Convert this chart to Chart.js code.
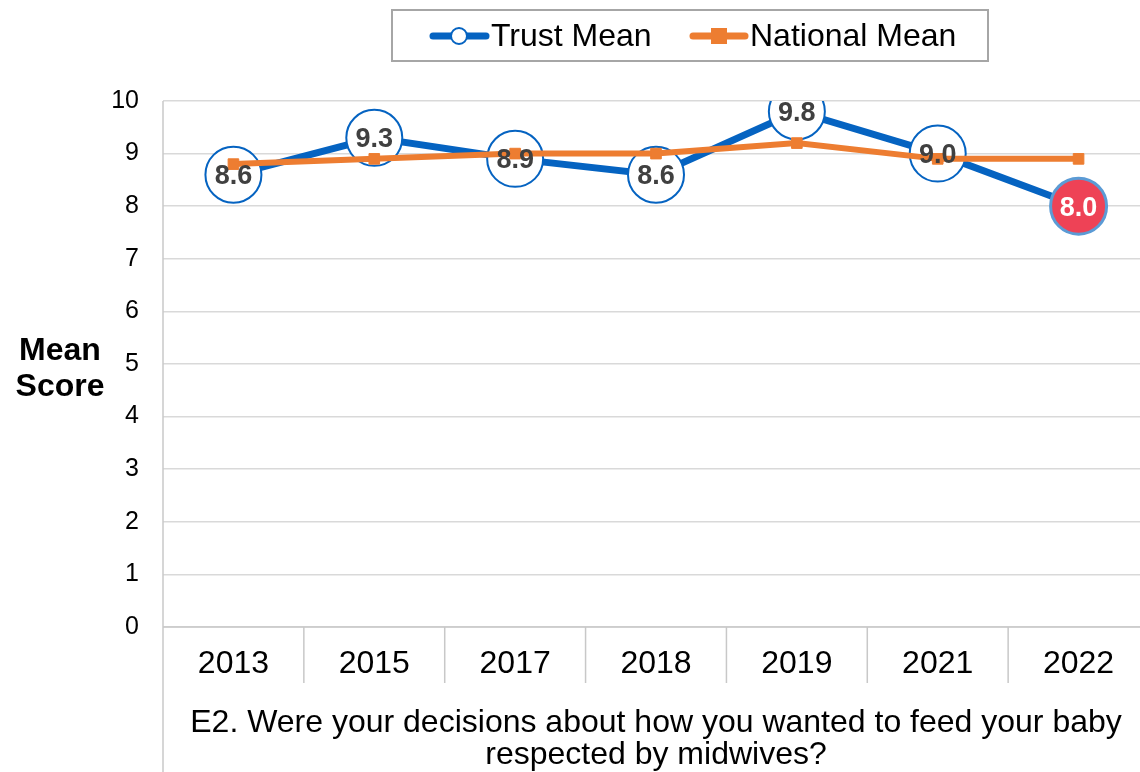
<!DOCTYPE html>
<html><head><meta charset="utf-8">
<script src="https://cdn.jsdelivr.net/npm/chart.js@4/dist/chart.umd.min.js"></script>
<style>
html,body{margin:0;padding:0;overflow:hidden;background:#fff}
#wrap{width:1140px;height:772px;overflow:hidden;position:relative}
#wrap canvas{position:absolute;left:0;top:0}
</style>
</head><body><div id="wrap"><canvas id="c" width="1180" height="772" style="width:1180px;height:772px"></canvas></div>
<script>
const categories = ['2013','2015','2017','2018','2019','2021','2022'];
const trustMean = [8.6, 9.3, 8.9, 8.6, 9.8, 9.0, 8.0];
const nationalMean = [8.8, 8.9, 9.0, 9.0, 9.2, 8.9, 8.9];
const yTicks = [0,1,2,3,4,5,6,7,8,9,10];
const seriesNames = ['Trust Mean', 'National Mean'];
const yTitle = ['Mean', 'Score'];
const xTitle = ['E2. Were your decisions about how you wanted to feed your baby', 'respected by midwives?'];

const FONT = "'Liberation Sans', Arial, sans-serif";
const BLUE = '#0563C1';
const ORANGE = '#ED7D31';
const RED = '#EE4256';
const lastIdx = trustMean.length - 1;

const decor = {
  id: 'decor',
  beforeDatasetsDraw(chart) {
    const ctx = chart.ctx, ca = chart.chartArea, xs = chart.scales.x;
    ctx.save();
    ctx.strokeStyle = '#C8C8C8';
    ctx.lineWidth = 1.5;
    ctx.beginPath();
    ctx.moveTo(ca.left, ca.top);
    ctx.lineTo(ca.left, chart.height);
    ctx.stroke();
    ctx.beginPath();
    ctx.moveTo(ca.left, ca.bottom);
    ctx.lineTo(ca.right, ca.bottom);
    ctx.stroke();
    const n = categories.length;
    const step = xs.getPixelForValue(1) - xs.getPixelForValue(0);
    for (let i = 1; i <= n; i++) {
      const x = xs.getPixelForValue(i - 1) + step / 2;
      ctx.beginPath();
      ctx.moveTo(x, ca.bottom);
      ctx.lineTo(x, ca.bottom + 56);
      ctx.stroke();
    }
    ctx.restore();
  },
  afterDatasetsDraw(chart) {
    const ctx = chart.ctx;
    const meta = chart.getDatasetMeta(0);
    ctx.save();
    ctx.font = "bold 27px " + FONT;
    ctx.textAlign = 'center';
    ctx.textBaseline = 'middle';
    meta.data.forEach((pt, i) => {
      ctx.fillStyle = i === lastIdx ? '#FFFFFF' : '#404040';
      ctx.fillText(trustMean[i].toFixed(1), pt.x, pt.y + 2);
    });
    ctx.restore();
  },
  afterDraw(chart) {
    const ctx = chart.ctx, ca = chart.chartArea;
    ctx.save();
    // y-axis title
    ctx.font = "bold 32px " + FONT;
    ctx.fillStyle = '#000';
    ctx.textAlign = 'center';
    ctx.textBaseline = 'middle';
    ctx.fillText(yTitle[0], 60, 351);
    ctx.fillText(yTitle[1], 60, 387);
    // x-axis title
    ctx.font = "32px " + FONT;
    ctx.textBaseline = 'alphabetic';
    const cx = (ca.left + ca.right) / 2;
    ctx.fillText(xTitle[0], cx, 732);
    ctx.fillText(xTitle[1], cx, 764);
    // legend box
    ctx.strokeStyle = '#A6A6A6';
    ctx.lineWidth = 2;
    ctx.strokeRect(392, 10, 596, 51);
    ctx.lineCap = 'round';
    ctx.strokeStyle = BLUE; ctx.lineWidth = 7;
    ctx.beginPath(); ctx.moveTo(433, 36); ctx.lineTo(486, 36); ctx.stroke();
    ctx.fillStyle = '#fff'; ctx.lineWidth = 2;
    ctx.beginPath(); ctx.arc(459, 36, 8, 0, Math.PI * 2); ctx.fill(); ctx.stroke();
    ctx.strokeStyle = ORANGE; ctx.lineWidth = 7;
    ctx.beginPath(); ctx.moveTo(693, 36); ctx.lineTo(745, 36); ctx.stroke();
    ctx.fillStyle = ORANGE;
    ctx.fillRect(711, 28, 16, 16);
    ctx.font = "32px " + FONT;
    ctx.fillStyle = '#000';
    ctx.textAlign = 'left';
    ctx.textBaseline = 'middle';
    ctx.fillText(seriesNames[0], 491, 37);
    ctx.fillText(seriesNames[1], 750, 37);
    ctx.restore();
  }
};

new Chart(document.getElementById('c'), {
  type: 'line',
  data: {
    labels: categories,
    datasets: [
      {
        label: seriesNames[0],
        data: trustMean,
        order: 1,
        borderColor: BLUE,
        borderWidth: 7,
        pointRadius: 28,
        pointHoverRadius: 28,
        pointBackgroundColor: trustMean.map((v, i) => i === lastIdx ? RED : '#FFFFFF'),
        pointBorderColor: trustMean.map((v, i) => i === lastIdx ? '#5B9BD5' : BLUE),
        pointBorderWidth: trustMean.map((v, i) => i === lastIdx ? 3 : 2),
        tension: 0
      },
      {
        label: seriesNames[1],
        data: nationalMean,
        order: 0,
        borderColor: ORANGE,
        borderWidth: 6,
        pointStyle: 'rect',
        pointRadius: 7.5,
        pointHoverRadius: 7.5,
        pointBackgroundColor: ORANGE,
        pointBorderColor: ORANGE,
        pointBorderWidth: 1,
        tension: 0
      }
    ]
  },
  options: {
    responsive: false,
    animation: false,
    events: [],
    layout: { padding: { top: 101, right: 30, left: 0, bottom: 0 } },
    plugins: { legend: { display: false }, tooltip: { enabled: false } },
    scales: {
      y: {
        min: 0, max: 10,
        afterBuildTicks: s => { s.ticks = yTicks.map(v => ({ value: v })); },
        afterFit: s => { s.width = 163; s.paddingTop = 0; s.paddingBottom = 0; },
        ticks: { font: { family: FONT, size: 25 }, color: '#000', padding: 24 },
        grid: { color: '#D9D9D9', lineWidth: 1.5, drawTicks: false },
        border: { display: false }
      },
      x: {
        offset: true,
        afterFit: s => { s.height = 145; s.paddingLeft = 0; s.paddingRight = 0; },
        grid: { display: false },
        border: { display: false },
        ticks: { font: { family: FONT, size: 32 }, color: '#000', padding: 10, maxRotation: 0, autoSkip: false },
        title: { display: false }
      }
    }
  },
  plugins: [decor]
});
</script>
</body></html>
